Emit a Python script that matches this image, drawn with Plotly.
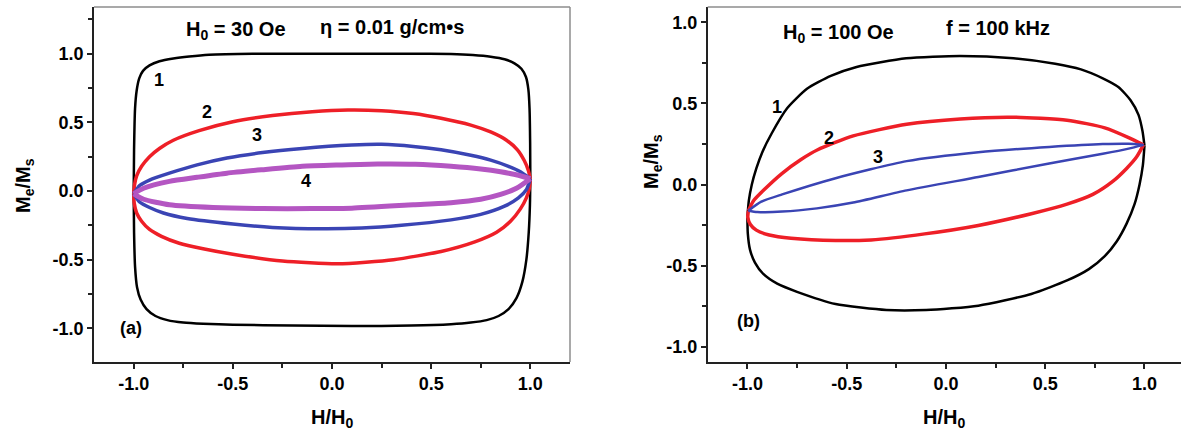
import plotly.graph_objects as go

# ---------------- data ----------------
# Panel (a): H0 = 30 Oe, eta = 0.01 g/cm*s
A1_UP_H = [-1.0, -0.998, -0.993, -0.985, -0.972, -0.953, -0.92, -0.87, -0.8, -0.72, -0.62, -0.4, 0.0, 0.4, 0.6, 0.71, 0.8, 0.87, 0.92, 0.955, 0.978, 0.99, 0.996, 0.999, 1.0]
A1_UP_M = [-0.02, 0.3, 0.6, 0.73, 0.82, 0.875, 0.915, 0.945, 0.965, 0.98, 0.993, 1.0, 1.0, 1.0, 0.997, 0.99, 0.978, 0.96, 0.93, 0.89, 0.83, 0.74, 0.6, 0.35, 0.09]
A1_LO_H = [-1.0, -0.998, -0.993, -0.983, -0.965, -0.935, -0.89, -0.83, -0.75, -0.65, -0.5, -0.2, 0.1, 0.4, 0.6, 0.7, 0.78, 0.84, 0.89, 0.93, 0.96, 0.98, 0.992, 0.998, 1.0]
A1_LO_M = [-0.02, -0.3, -0.55, -0.7, -0.79, -0.86, -0.91, -0.94, -0.958, -0.967, -0.973, -0.98, -0.983, -0.98, -0.97, -0.958, -0.94, -0.91, -0.86, -0.78, -0.66, -0.5, -0.3, -0.1, 0.09]

A2_UP_H = [-1.0, -0.995, -0.985, -0.96, -0.92, -0.87, -0.8, -0.67, -0.5, -0.3, -0.1, 0.08, 0.25, 0.41, 0.55, 0.7, 0.8, 0.88, 0.935, 0.97, 0.99, 1.0]
A2_UP_M = [-0.02, 0.05, 0.11, 0.18, 0.25, 0.31, 0.37, 0.44, 0.505, 0.55, 0.578, 0.59, 0.585, 0.565, 0.53, 0.48, 0.43, 0.37, 0.3, 0.22, 0.15, 0.09]
A2_LO_H = [-1.0, -0.997, -0.985, -0.96, -0.92, -0.86, -0.77, -0.65, -0.5, -0.25, 0.03, 0.31, 0.55, 0.72, 0.83, 0.9, 0.95, 0.98, 0.995, 1.0]
A2_LO_M = [-0.02, -0.09, -0.16, -0.22, -0.28, -0.33, -0.38, -0.42, -0.46, -0.51, -0.53, -0.5, -0.44, -0.37, -0.3, -0.22, -0.13, -0.05, 0.02, 0.09]

A3_UP_H = [-1.0, -0.97, -0.92, -0.82, -0.68, -0.53, -0.35, -0.15, 0.1, 0.25, 0.41, 0.55, 0.7, 0.8, 0.89, 0.95, 1.0]
A3_UP_M = [-0.02, 0.04, 0.08, 0.13, 0.19, 0.24, 0.28, 0.31, 0.335, 0.34, 0.325, 0.3, 0.26, 0.225, 0.18, 0.14, 0.09]
A3_LO_H = [-1.0, -0.97, -0.92, -0.85, -0.73, -0.5, -0.3, -0.05, 0.15, 0.35, 0.6, 0.75, 0.87, 0.94, 0.98, 1.0]
A3_LO_M = [-0.02, -0.08, -0.12, -0.16, -0.2, -0.24, -0.265, -0.275, -0.27, -0.25, -0.21, -0.17, -0.11, -0.05, 0.01, 0.09]

A4_UP_H = [-1.0, -0.95, -0.82, -0.68, -0.53, -0.35, -0.15, 0.05, 0.23, 0.42, 0.6, 0.75, 0.85, 0.94, 1.0]
A4_UP_M = [-0.02, 0.02, 0.07, 0.1, 0.13, 0.155, 0.18, 0.19, 0.197, 0.195, 0.18, 0.16, 0.14, 0.115, 0.09]
A4_LO_H = [-1.0, -0.95, -0.82, -0.6, -0.35, -0.1, 0.1, 0.41, 0.6, 0.75, 0.85, 0.93, 1.0]
A4_LO_M = [-0.02, -0.06, -0.1, -0.12, -0.128, -0.128, -0.125, -0.1, -0.085, -0.06, -0.025, 0.02, 0.09]

# Panel (b): H0 = 100 Oe, f = 100 kHz
B1_UP_H = [-1.0, -0.993, -0.978, -0.955, -0.925, -0.878, -0.8, -0.7, -0.58, -0.45, -0.2, 0.07, 0.34, 0.55, 0.68, 0.79, 0.87, 0.93, 0.97, 0.99, 1.0]
B1_UP_M = [-0.2, -0.1, 0.0, 0.1, 0.2, 0.315, 0.47, 0.59, 0.67, 0.725, 0.778, 0.792, 0.778, 0.745, 0.71, 0.655, 0.6, 0.52, 0.43, 0.33, 0.24]
B1_LO_H = [-1.0, -0.998, -0.987, -0.962, -0.92, -0.85, -0.75, -0.556, -0.3, -0.1, 0.163, 0.43, 0.61, 0.72, 0.8, 0.86, 0.91, 0.95, 0.975, 0.992, 1.0]
B1_LO_M = [-0.2, -0.3, -0.4, -0.48, -0.55, -0.61, -0.66, -0.735, -0.772, -0.772, -0.745, -0.673, -0.59, -0.52, -0.44, -0.35, -0.24, -0.12, 0.0, 0.12, 0.24]

B2_UP_H = [-0.995, -0.97, -0.915, -0.825, -0.73, -0.646, -0.467, -0.198, 0.072, 0.34, 0.61, 0.8, 0.92, 0.995]
B2_UP_M = [-0.16, -0.1, -0.03, 0.07, 0.155, 0.215, 0.3, 0.372, 0.405, 0.415, 0.397, 0.35, 0.29, 0.245]
B2_LO_H = [-0.995, -0.998, -0.985, -0.955, -0.89, -0.78, -0.556, -0.377, -0.107, 0.163, 0.43, 0.61, 0.74, 0.84, 0.91, 0.96, 0.995]
B2_LO_M = [-0.16, -0.2, -0.245, -0.28, -0.31, -0.33, -0.344, -0.34, -0.303, -0.251, -0.179, -0.12, -0.06, 0.02, 0.1, 0.17, 0.245]

B3_UP_H = [-0.995, -0.93, -0.825, -0.556, -0.198, 0.163, 0.52, 0.79, 0.92, 0.995]
B3_UP_M = [-0.16, -0.105, -0.06, 0.04, 0.145, 0.2, 0.232, 0.25, 0.252, 0.245]
B3_LO_H = [-0.995, -0.95, -0.825, -0.65, -0.467, -0.198, 0.163, 0.52, 0.79, 0.92, 0.995]
B3_LO_M = [-0.16, -0.168, -0.166, -0.146, -0.11, -0.035, 0.047, 0.13, 0.19, 0.222, 0.245]

TICK_VALS = [-1.0, -0.5, 0.0, 0.5, 1.0]
TICK_TEXT = ["-1.0", "-0.5", "0.0", "0.5", "1.0"]
X_MINOR = [-0.75, -0.25, 0.25, 0.75]
YA_MINOR = [-0.75, -0.25, 0.25, 0.75, 1.25]
YB_MINOR = [-0.75, -0.25, 0.25, 0.75]

# ---------------- styling ----------------
BLACK = "#000000"
RED = "#ee1f27"
BLUE = "#3a44b4"
MAGENTA = "#b456c2"
FONT = "Liberation Sans"
W, H = 1181, 435
M_T, M_B = 7, 73
PH = H - M_T - M_B

fig = go.Figure()


def add_branch(xs, ys, color, width, xa, ya):
    fig.add_trace(go.Scatter(x=xs, y=ys, mode="lines", xaxis=xa, yaxis=ya,
                             line=dict(color=color, width=width, shape="spline", smoothing=0.6),
                             showlegend=False, hoverinfo="skip"))


for (xs, ys, c, w) in [
    (A1_UP_H, A1_UP_M, BLACK, 2.5), (A1_LO_H, A1_LO_M, BLACK, 2.5),
    (A2_UP_H, A2_UP_M, RED, 3.5), (A2_LO_H, A2_LO_M, RED, 3.5),
    (A3_UP_H, A3_UP_M, BLUE, 3.5), (A3_LO_H, A3_LO_M, BLUE, 3.5),
    (A4_UP_H, A4_UP_M, MAGENTA, 5), (A4_LO_H, A4_LO_M, MAGENTA, 5),
]:
    add_branch(xs, ys, c, w, "x", "y")

for (xs, ys, c, w) in [
    (B1_UP_H, B1_UP_M, BLACK, 2.5), (B1_LO_H, B1_LO_M, BLACK, 2.5),
    (B2_UP_H, B2_UP_M, RED, 3.5), (B2_LO_H, B2_LO_M, RED, 3.5),
    (B3_UP_H, B3_UP_M, BLUE, 2.5), (B3_LO_H, B3_LO_M, BLUE, 2.5),
]:
    add_branch(xs, ys, c, w, "x2", "y2")

tickfont = dict(family=FONT, size=18, color="black", weight="bold")
axis_common = dict(showline=True, linecolor="#222", linewidth=1.5, ticks="outside",
                   ticklen=5, tickwidth=1.5, tickcolor="#222", showgrid=False,
                   zeroline=False, tickmode="array", tickvals=TICK_VALS, ticktext=TICK_TEXT,
                   tickfont=tickfont, fixedrange=True, automargin=False)

fig.update_layout(
    width=W, height=H, margin=dict(l=0, r=0, t=M_T, b=M_B, autoexpand=False),
    paper_bgcolor="white", plot_bgcolor="white",
    xaxis=dict(domain=[94 / W, 570 / W], range=[-1.2, 1.2], anchor="y",
               minor=dict(tickmode="array", tickvals=X_MINOR, ticks="outside", ticklen=4,
                          tickwidth=1.5, tickcolor="#222"), **axis_common),
    yaxis=dict(domain=[0, 1], range=[-1.245, 1.34], anchor="x",
               minor=dict(tickmode="array", tickvals=YA_MINOR, ticks="outside", ticklen=4,
                          tickwidth=1.5, tickcolor="#222"), **axis_common),
    xaxis2=dict(domain=[707.7 / W, 1.0], range=[-1.2, 1.184], anchor="y2",
                minor=dict(tickmode="array", tickvals=X_MINOR, ticks="outside", ticklen=4,
                           tickwidth=1.5, tickcolor="#222"), **axis_common),
    yaxis2=dict(domain=[0, 1], range=[-1.092, 1.094], anchor="x2",
                minor=dict(tickmode="array", tickvals=YB_MINOR, ticks="outside", ticklen=4,
                           tickwidth=1.5, tickcolor="#222"), **axis_common),
)

# frame borders (top/right, lighter grey)
border = dict(color="#8c8c8c", width=1.5)
fig.add_shape(type="line", xref="x domain", yref="y domain", x0=0, x1=1, y0=1, y1=1, line=border)
fig.add_shape(type="line", xref="x domain", yref="y domain", x0=1, x1=1, y0=0, y1=1, line=border)
fig.add_shape(type="line", xref="x2 domain", yref="y2 domain", x0=0, x1=1, y0=1, y1=1, line=border)

txt = dict(family=FONT, size=18, color="black", weight="bold")
title_txt = dict(family=FONT, size=20, color="black", weight="bold")


def px_ann(text, px, py, xanchor="left", yanchor="middle", angle=0, font=txt):
    fig.add_annotation(text=text, xref="paper", yref="paper", x=px / W, y=(H - M_B - py) / PH,
                       xanchor=xanchor, yanchor=yanchor, showarrow=False, font=font, textangle=angle)


# panel titles
px_ann("H<sub>0</sub> = 30 Oe", 184, 30, font=title_txt)
px_ann("η = 0.01 g/cm•s", 318, 27, font=title_txt)
px_ann("H<sub>0</sub> = 100 Oe", 781, 33, font=title_txt)
px_ann("f = 100 kHz", 944, 28, font=title_txt)

# axis titles
px_ann("H/H<sub>0</sub>", 332, 418, xanchor="center", font=title_txt)
px_ann("H/H<sub>0</sub>", 944, 418, xanchor="center", font=title_txt)
px_ann("M<sub>e</sub>/M<sub>s</sub>", 24, 185, xanchor="center", angle=-90, font=title_txt)
px_ann("M<sub>e</sub>/M<sub>s</sub>", 652, 162, xanchor="center", angle=-90, font=title_txt)


def data_ann(text, x, y, xa, ya):
    fig.add_annotation(text=text, x=x, y=y, xref=xa, yref=ya, showarrow=False, font=txt)


data_ann("1", -0.87, 0.81, "x", "y")
data_ann("2", -0.63, 0.575, "x", "y")
data_ann("3", -0.38, 0.41, "x", "y")
data_ann("4", -0.13, 0.07, "x", "y")
data_ann("(a)", -1.015, -1.0, "x", "y")

data_ann("1", -0.85, 0.48, "x2", "y2")
data_ann("2", -0.59, 0.29, "x2", "y2")
data_ann("3", -0.34, 0.17, "x2", "y2")
data_ann("(b)", -0.995, -0.84, "x2", "y2")

fig.write_html("out.html", config={"displayModeBar": False},
               post_script="document.body.style.margin='0';document.body.style.overflow='hidden';")
